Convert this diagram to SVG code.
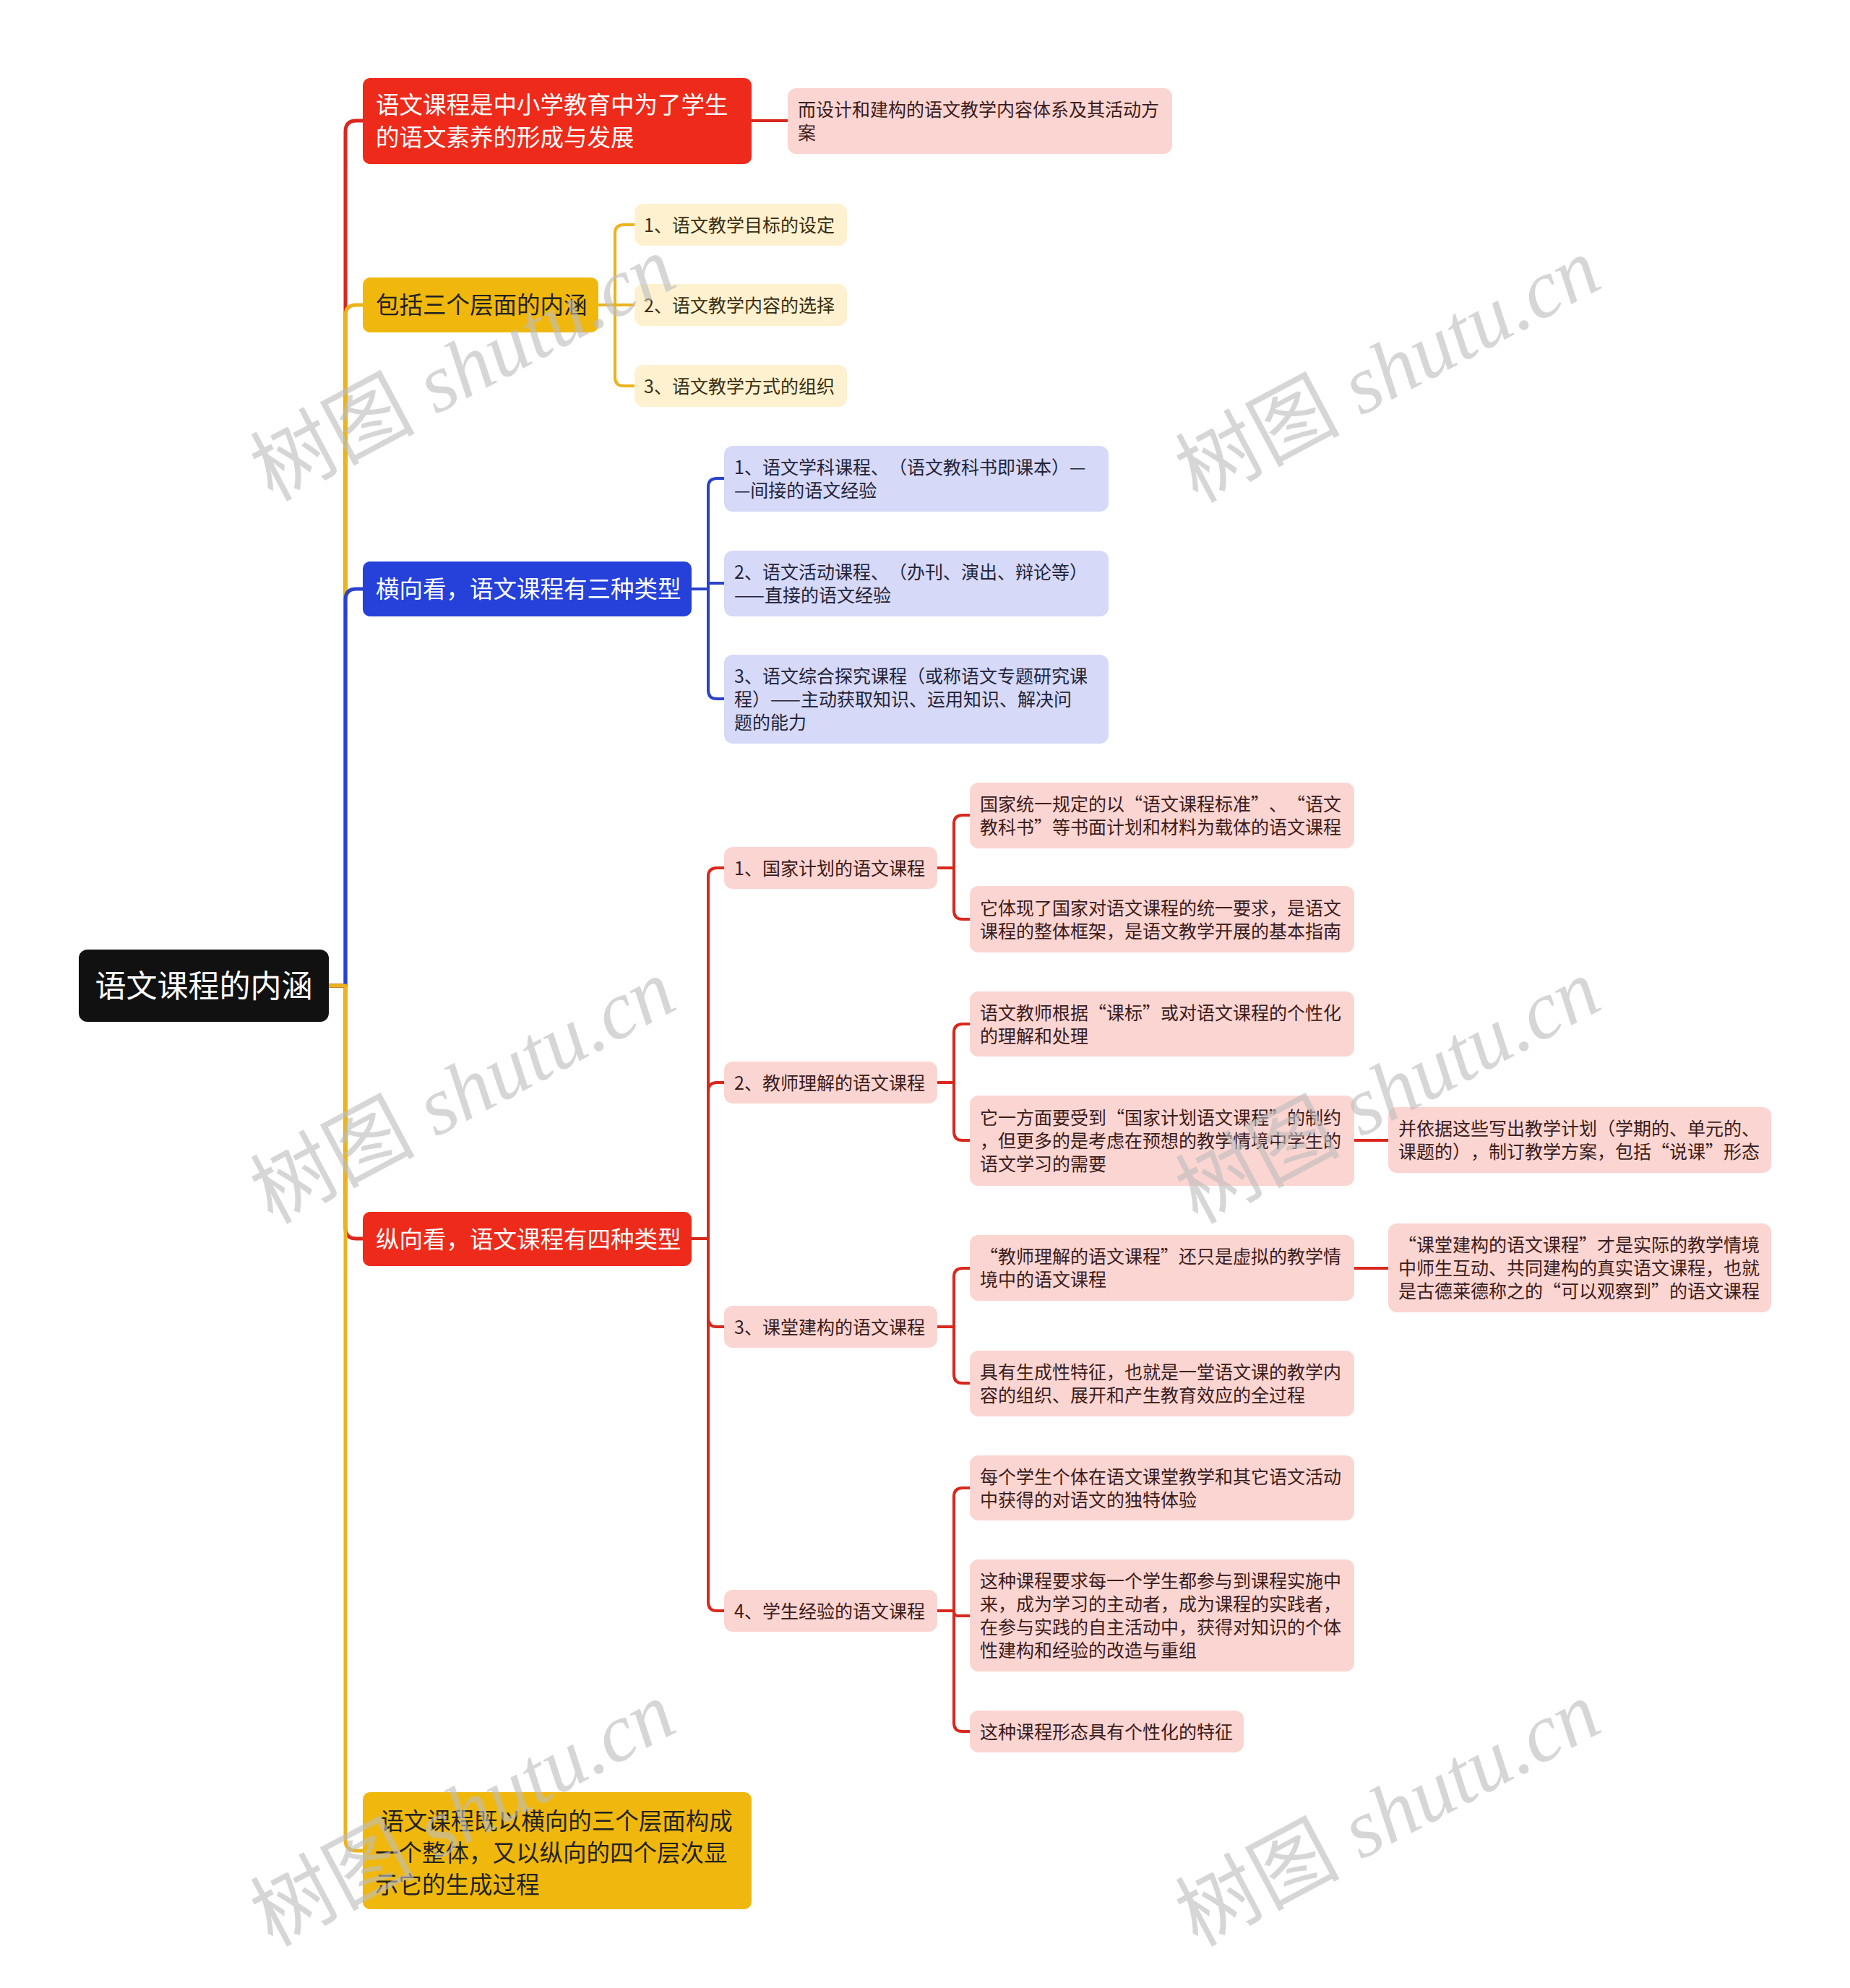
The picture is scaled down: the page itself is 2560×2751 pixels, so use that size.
<svg xmlns="http://www.w3.org/2000/svg" width="2560" height="2751" viewBox="0 0 2560 2751">
<style>
.t {font-family:"Noto Sans CJK SC","Noto Sans",sans-serif;text-spacing-trim:space-all;font-feature-settings:"halt" 0,"chws" 0;}
.root {font-size:43px;fill:#ffffff;}
.l1w {font-size:32.5px;fill:#ffffff;}
.l1d {font-size:32.5px;fill:#222222;}
.s {font-size:25px;fill:#3b1c1c;}
.sy {font-size:25px;fill:#3a2d10;}
.sb {font-size:25px;fill:#23243a;}
.pink {fill:#fbd5d1;}
.lyel {fill:#fdf1cf;}
.lav {fill:#d6d9f7;}
.red {fill:#ee2a1b;}
.yel {fill:#f0b80c;}
.blu {fill:#2541da;}
.cr {fill:none;stroke:#d9281d;stroke-width:4;stroke-linecap:round;stroke-linejoin:round;}
.cy {fill:none;stroke:#ebb41a;stroke-width:4;stroke-linecap:round;stroke-linejoin:round;}
.cb {fill:none;stroke:#2a42cc;stroke-width:4;stroke-linecap:round;stroke-linejoin:round;}
.w5 {stroke-width:5;}
.wm {font-size:114px;fill:#bdbdbd;fill-opacity:0.62;}
</style>
<rect width="2560" height="2751" fill="#ffffff"/>

<g id="connectors">
  <path class="cr w5" d="M455 1364 H478 V182 Q478 167 493 167 H502"/>
  <path class="cy w5" d="M455 1364 H478 V437 Q478 422 493 422 H502"/>
  <path class="cb w5" d="M455 1364 H478 V830 Q478 815 493 815 H502"/>
  <path class="cr w5" d="M455 1364 H478 V1699 Q478 1714 493 1714 H502"/>
  <path class="cy w5" d="M455 1364 H478 V2546 Q478 2561 493 2561 H502"/>
  <path class="cr" d="M1040 167 H1090"/>
  <path class="cy" d="M828 422 H851 V323 Q851 311 863 311 H878"/>
  <path class="cy" d="M828 422 H878"/>
  <path class="cy" d="M828 422 H851 V522 Q851 534 863 534 H878"/>
  <path class="cb" d="M957 815 H980 V674 Q980 662 992 662 H1002"/>
  <path class="cb" d="M957 815 H980 V808 Q980 807 981 807 H1002"/>
  <path class="cb" d="M957 815 H980 V955 Q980 967 992 967 H1002"/>
  <path class="cr" d="M957 1714 H980 V1213 Q980 1201 992 1201 H1002"/>
  <path class="cr" d="M957 1714 H980 V1510 Q980 1498 992 1498 H1002"/>
  <path class="cr" d="M957 1714 H980 V1824 Q980 1836 992 1836 H1002"/>
  <path class="cr" d="M957 1714 H980 V2217 Q980 2229 992 2229 H1002"/>
  <path class="cr" d="M1297 1201 H1320 V1140 Q1320 1128 1332 1128 H1342"/>
  <path class="cr" d="M1297 1201 H1320 V1260 Q1320 1272 1332 1272 H1342"/>
  <path class="cr" d="M1297 1498 H1320 V1429 Q1320 1417 1332 1417 H1342"/>
  <path class="cr" d="M1297 1498 H1320 V1566 Q1320 1578 1332 1578 H1342"/>
  <path class="cr" d="M1297 1836 H1320 V1767 Q1320 1755 1332 1755 H1342"/>
  <path class="cr" d="M1297 1836 H1320 V1902 Q1320 1914 1332 1914 H1342"/>
  <path class="cr" d="M1297 2229 H1320 V2071 Q1320 2059 1332 2059 H1342"/>
  <path class="cr" d="M1297 2229 H1320 V2230 Q1320 2236 1326 2236 H1342"/>
  <path class="cr" d="M1297 2229 H1320 V2384 Q1320 2396 1332 2396 H1342"/>
  <path class="cr" d="M1874 1578 H1921"/>
  <path class="cr" d="M1874 1755 H1921"/>
</g>

<g id="root">
  <rect x="109" y="1314" width="346" height="100" rx="12" fill="#111111"/>
  <text class="t root" x="282" y="1380" text-anchor="middle">语文课程的内涵</text>
</g>

<g id="nodeA">
  <rect class="red" x="502" y="108" width="538" height="119" rx="10"/>
  <text class="t l1w"><tspan x="520" y="157">语文课程是中小学教育中为了学生</tspan><tspan x="520" y="202">的语文素养的形成与发展</tspan></text>
</g>
<g id="nodeA1">
  <rect class="pink" x="1090" y="122" width="532" height="91" rx="12"/>
  <text class="t s"><tspan x="1104" y="161">而设计和建构的语文教学内容体系及其活动方</tspan><tspan x="1104" y="193">案</tspan></text>
</g>

<g id="nodeB">
  <rect class="yel" x="502" y="384" width="326" height="76" rx="10"/>
  <text class="t l1d" x="520" y="434">包括三个层面的内涵</text>
</g>
<g id="nodeB1">
  <rect class="lyel" x="878" y="282" width="294" height="58" rx="12"/>
  <text class="t sy" x="891" y="320.5">1、语文教学目标的设定</text>
</g>
<g id="nodeB2">
  <rect class="lyel" x="878" y="393" width="294" height="58" rx="12"/>
  <text class="t sy" x="891" y="431.5">2、语文教学内容的选择</text>
</g>
<g id="nodeB3">
  <rect class="lyel" x="878" y="505" width="294" height="58" rx="12"/>
  <text class="t sy" x="891" y="543.5">3、语文教学方式的组织</text>
</g>

<g id="nodeC">
  <rect class="blu" x="502" y="777" width="455" height="76" rx="10"/>
  <text class="t l1w" x="520" y="827">横向看，语文课程有三种类型</text>
</g>
<g id="nodeC1">
  <rect class="lav" x="1002" y="617" width="532" height="91" rx="12"/>
  <text class="t sb"><tspan x="1016" y="656">1、语文学科课程、（语文教科书即课本）—</tspan><tspan x="1016" y="688">—间接的语文经验</tspan></text>
</g>
<g id="nodeC2">
  <rect class="lav" x="1002" y="762" width="532" height="91" rx="12"/>
  <text class="t sb"><tspan x="1016" y="801">2、语文活动课程、（办刊、演出、辩论等）</tspan><tspan x="1016" y="833">——直接的语文经验</tspan></text>
</g>
<g id="nodeC3">
  <rect class="lav" x="1002" y="906" width="532" height="123" rx="12"/>
  <text class="t sb"><tspan x="1016" y="945">3、语文综合探究课程（或称语文专题研究课</tspan><tspan x="1016" y="977">程）——主动获取知识、运用知识、解决问</tspan><tspan x="1016" y="1009">题的能力</tspan></text>
</g>

<g id="nodeD">
  <rect class="red" x="502" y="1677" width="455" height="75" rx="10"/>
  <text class="t l1w" x="520" y="1726.5">纵向看，语文课程有四种类型</text>
</g>
<g id="nodeD1">
  <rect class="pink" x="1002" y="1172" width="295" height="58" rx="12"/>
  <text class="t s" x="1016" y="1210.5">1、国家计划的语文课程</text>
</g>
<g id="nodeD2">
  <rect class="pink" x="1002" y="1469" width="295" height="58" rx="12"/>
  <text class="t s" x="1016" y="1507.5">2、教师理解的语文课程</text>
</g>
<g id="nodeD3">
  <rect class="pink" x="1002" y="1807" width="295" height="58" rx="12"/>
  <text class="t s" x="1016" y="1845.5">3、课堂建构的语文课程</text>
</g>
<g id="nodeD4">
  <rect class="pink" x="1002" y="2200" width="295" height="58" rx="12"/>
  <text class="t s" x="1016" y="2238.5">4、学生经验的语文课程</text>
</g>

<g id="nodeA1a">
  <rect class="pink" x="1342" y="1083" width="532" height="91" rx="12"/>
  <text class="t s"><tspan x="1356" y="1122">国家统一规定的以“语文课程标准”、“语文</tspan><tspan x="1356" y="1154">教科书”等书面计划和材料为载体的语文课程</tspan></text>
</g>
<g id="nodeA2a">
  <rect class="pink" x="1342" y="1226" width="532" height="92" rx="12"/>
  <text class="t s"><tspan x="1356" y="1265.5">它体现了国家对语文课程的统一要求，是语文</tspan><tspan x="1356" y="1297.5">课程的整体框架，是语文教学开展的基本指南</tspan></text>
</g>
<g id="nodeB1a">
  <rect class="pink" x="1342" y="1372" width="532" height="90" rx="12"/>
  <text class="t s"><tspan x="1356" y="1410.5">语文教师根据“课标”或对语文课程的个性化</tspan><tspan x="1356" y="1442.5">的理解和处理</tspan></text>
</g>
<g id="nodeB2a">
  <rect class="pink" x="1342" y="1516" width="532" height="125" rx="12"/>
  <text class="t s"><tspan x="1356" y="1556">它一方面要受到“国家计划语文课程”的制约</tspan><tspan x="1356" y="1588">，但更多的是考虑在预想的教学情境中学生的</tspan><tspan x="1356" y="1620">语文学习的需要</tspan></text>
</g>
<g id="nodeB2b">
  <rect class="pink" x="1921" y="1532" width="530" height="91" rx="12"/>
  <text class="t s"><tspan x="1935" y="1571">并依据这些写出教学计划（学期的、单元的、</tspan><tspan x="1935" y="1603">课题的），制订教学方案，包括“说课”形态</tspan></text>
</g>
<g id="nodeC1a">
  <rect class="pink" x="1342" y="1709" width="532" height="91" rx="12"/>
  <text class="t s"><tspan x="1356" y="1748">“教师理解的语文课程”还只是虚拟的教学情</tspan><tspan x="1356" y="1780">境中的语文课程</tspan></text>
</g>
<g id="nodeC1b">
  <rect class="pink" x="1921" y="1693" width="530" height="123" rx="12"/>
  <text class="t s"><tspan x="1935" y="1732">“课堂建构的语文课程”才是实际的教学情境</tspan><tspan x="1935" y="1764">中师生互动、共同建构的真实语文课程，也就</tspan><tspan x="1935" y="1796">是古德莱德称之的“可以观察到”的语文课程</tspan></text>
</g>
<g id="nodeC2a">
  <rect class="pink" x="1342" y="1869" width="532" height="91" rx="12"/>
  <text class="t s"><tspan x="1356" y="1908">具有生成性特征，也就是一堂语文课的教学内</tspan><tspan x="1356" y="1940">容的组织、展开和产生教育效应的全过程</tspan></text>
</g>
<g id="nodeD1a">
  <rect class="pink" x="1342" y="2014" width="532" height="90" rx="12"/>
  <text class="t s"><tspan x="1356" y="2052.5">每个学生个体在语文课堂教学和其它语文活动</tspan><tspan x="1356" y="2084.5">中获得的对语文的独特体验</tspan></text>
</g>
<g id="nodeD2a">
  <rect class="pink" x="1342" y="2158" width="532" height="155" rx="12"/>
  <text class="t s"><tspan x="1356" y="2197">这种课程要求每一个学生都参与到课程实施中</tspan><tspan x="1356" y="2229">来，成为学习的主动者，成为课程的实践者，</tspan><tspan x="1356" y="2261">在参与实践的自主活动中，获得对知识的个体</tspan><tspan x="1356" y="2293">性建构和经验的改造与重组</tspan></text>
</g>
<g id="nodeD3a">
  <rect class="pink" x="1342" y="2367" width="379" height="58" rx="12"/>
  <text class="t s" x="1356" y="2405.5">这种课程形态具有个性化的特征</text>
</g>

<g id="nodeE">
  <rect class="yel" x="502" y="2480" width="538" height="162" rx="10"/>
  <text class="t l1d" xml:space="preserve"><tspan x="519" y="2532"> 语文课程既以横向的三个层面构成</tspan><tspan x="519" y="2576">一个整体，又以纵向的四个层次显</tspan><tspan x="519" y="2620">示它的生成过程</tspan></text>
</g>

<g id="watermarks">
  <text class="wm" x="640" y="549" text-anchor="middle" transform="rotate(-28 640 509)"><tspan font-family="Noto Sans CJK SC">树图</tspan><tspan font-family="Liberation Serif" font-style="italic"> shutu.cn</tspan></text>
  <text class="wm" x="1920" y="551" text-anchor="middle" transform="rotate(-28 1920 511)"><tspan font-family="Noto Sans CJK SC">树图</tspan><tspan font-family="Liberation Serif" font-style="italic"> shutu.cn</tspan></text>
  <text class="wm" x="640" y="1549" text-anchor="middle" transform="rotate(-28 640 1509)"><tspan font-family="Noto Sans CJK SC">树图</tspan><tspan font-family="Liberation Serif" font-style="italic"> shutu.cn</tspan></text>
  <text class="wm" x="1920" y="1549" text-anchor="middle" transform="rotate(-28 1920 1509)"><tspan font-family="Noto Sans CJK SC">树图</tspan><tspan font-family="Liberation Serif" font-style="italic"> shutu.cn</tspan></text>
  <text class="wm" x="640" y="2549" text-anchor="middle" transform="rotate(-28 640 2509)"><tspan font-family="Noto Sans CJK SC">树图</tspan><tspan font-family="Liberation Serif" font-style="italic"> shutu.cn</tspan></text>
  <text class="wm" x="1920" y="2549" text-anchor="middle" transform="rotate(-28 1920 2509)"><tspan font-family="Noto Sans CJK SC">树图</tspan><tspan font-family="Liberation Serif" font-style="italic"> shutu.cn</tspan></text>
</g>
</svg>
